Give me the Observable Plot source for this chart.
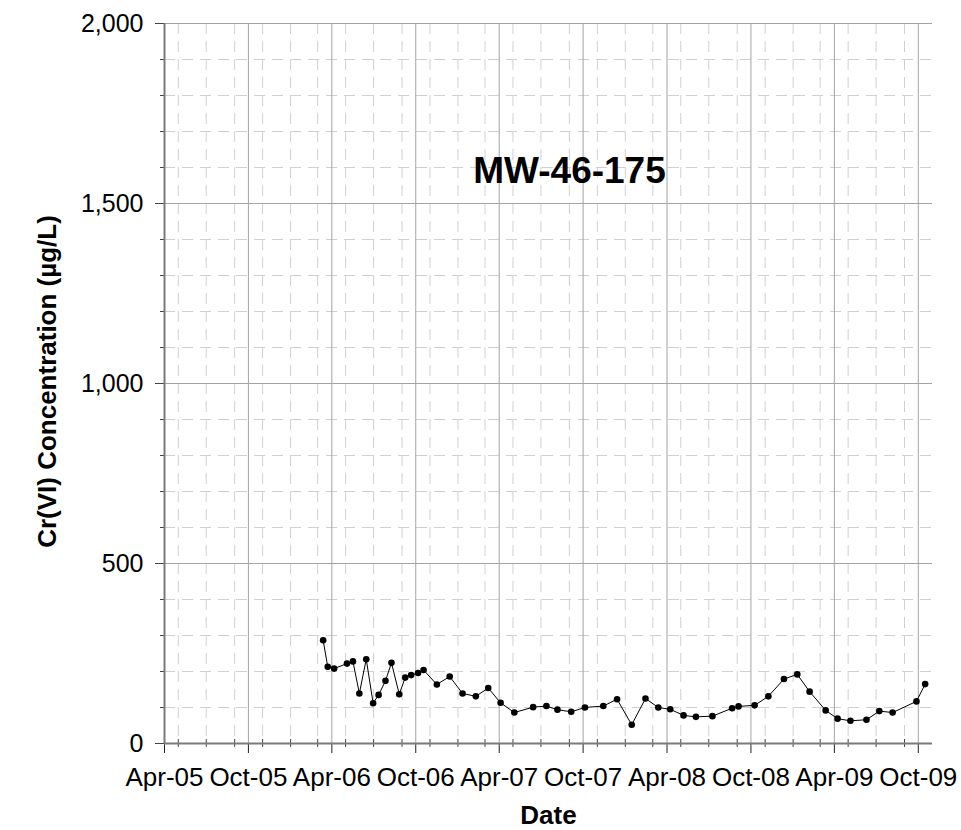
<!DOCTYPE html>
<html><head><meta charset="utf-8">
<script src="https://cdn.jsdelivr.net/npm/d3@7"></script>
<script src="https://cdn.jsdelivr.net/npm/@observablehq/plot@0.6"></script>
<style>html,body{margin:0;padding:0;background:#fff;}</style>
</head><body><div id="chart"></div>
<script>
const sampleDates = [
  "2006-03-13","2006-03-23","2006-04-06","2006-05-04","2006-05-17","2006-05-31","2006-06-15","2006-06-30",
  "2006-07-12","2006-07-27","2006-08-09","2006-08-26","2006-09-08","2006-09-21","2006-10-06","2006-10-18",
  "2006-11-16","2006-12-14","2007-01-11","2007-02-09","2007-03-08","2007-04-04","2007-05-04","2007-06-14",
  "2007-07-13","2007-08-06","2007-09-05","2007-10-05","2007-11-14","2007-12-14","2008-01-15","2008-02-14",
  "2008-03-13","2008-04-08","2008-05-07","2008-06-03","2008-07-09","2008-08-21","2008-09-04","2008-10-09",
  "2008-11-08","2008-12-12","2009-01-10","2009-02-06","2009-03-13","2009-04-08","2009-05-06","2009-06-10",
  "2009-07-08","2009-08-06","2009-09-27","2009-10-16"
];
const concentrations = [
  287, 213, 208, 222, 228, 139, 234, 112,
  135, 174, 224, 137, 183, 190, 196, 204,
  164, 186, 139, 131, 154, 113, 86, 101,
  104, 94, 88, 100, 104, 123, 52, 125,
  100, 95, 78, 74, 76, 98, 103, 106,
  131, 179, 192, 144, 92, 69, 63, 66,
  90, 86, 117, 165
];
const xTickDates = ["2005-04-01","2005-10-01","2006-04-01","2006-10-01","2007-04-01","2007-10-01","2008-04-01","2008-10-01","2009-04-01","2009-10-01"];
const xTickLabels = ["Apr-05","Oct-05","Apr-06","Oct-06","Apr-07","Oct-07","Apr-08","Oct-08","Apr-09","Oct-09"];
const xDomain = ["2005-04-01","2009-11-01"];
const yMajorTicks = [0, 500, 1000, 1500, 2000];
const yMinorTicks = [100, 200, 300, 400, 600, 700, 800, 900, 1100, 1200, 1300, 1400, 1600, 1700, 1800, 1900];
const chartTitle = "MW-46-175";
const xTitle = "Date";
const yTitle = "Cr(VI) Concentration (µg/L)";

const parse = d3.utcParse("%Y-%m-%d");
const data = sampleDates.map((d, i) => ({date: parse(d), value: concentrations[i]}));
const x0 = parse(xDomain[0]), x1 = parse(xDomain[1]);
const majorX = xTickDates.map(parse);
const minorX = d3.utcMonth.every(2).range(x0, x1).filter(d => !majorX.some(m => +m === +d));
const labelOf = new Map(majorX.map((d, i) => [+d, xTickLabels[i]]));
const font = "'Liberation Sans', Arial, Helvetica, sans-serif";
const blank = () => "";

const chart = Plot.plot({
  width: 961, height: 830,
  marginLeft: 164, marginRight: 29, marginTop: 23, marginBottom: 87,
  style: {fontFamily: font, background: "#fff", color: "#000", overflow: "visible"},
  x: {type: "utc", domain: [x0, x1]},
  y: {domain: [0, 2000]},
  marks: [
    Plot.ruleY(yMinorTicks, {stroke: "#d0d0d0", strokeDasharray: "11,7"}),
    Plot.ruleX(minorX, {stroke: "#d0d0d0", strokeDasharray: "11,7"}),
    Plot.ruleY(yMajorTicks.filter(v => v > 0), {stroke: "#a3a3a3"}),
    Plot.ruleX(majorX.slice(1), {stroke: "#a3a3a3"}),
    Plot.axisY({ticks: yMinorTicks, tickSize: 4, tickFormat: blank, label: null, stroke: "#444"}),
    Plot.axisY({ticks: yMajorTicks, tickSize: 9, tickPadding: 12, tickFormat: d3.format(","), fontSize: 25, label: null, stroke: "#444"}),
    Plot.axisX({ticks: minorX, tickSize: 4, tickFormat: blank, label: null, stroke: "#444"}),
    Plot.axisX({ticks: minorX, tickSize: -4, tickFormat: blank, label: null, stroke: "#444"}),
    Plot.axisX({ticks: majorX, tickSize: 10, tickPadding: 14, tickFormat: d => labelOf.get(+d), fontSize: 26, label: null, stroke: "#222"}),
    Plot.ruleY([0], {stroke: "#7a7a7a", strokeWidth: 2}),
    Plot.ruleX([x0], {stroke: "#7a7a7a", strokeWidth: 2}),
    Plot.line(data, {x: "date", y: "value", stroke: "#000", strokeWidth: 1}),
    Plot.dot(data, {x: "date", y: "value", r: 3.3, fill: "#000", stroke: "none"}),
    Plot.text([chartTitle], {frameAnchor: "top", dx: 21, dy: 159, lineAnchor: "bottom", fontSize: 37, fontWeight: "bold", fill: "#000"}),
    Plot.text([xTitle], {frameAnchor: "bottom", dy: 80, lineAnchor: "bottom", fontSize: 26, fontWeight: "bold", fill: "#000"}),
    Plot.text([yTitle], {frameAnchor: "left", textAnchor: "middle", dx: -109, dy: -2, rotate: -90, lineAnchor: "bottom", fontSize: 26, fontWeight: "bold", fill: "#000"})
  ]
});
document.getElementById("chart").appendChild(chart);
</script>
</body></html>
